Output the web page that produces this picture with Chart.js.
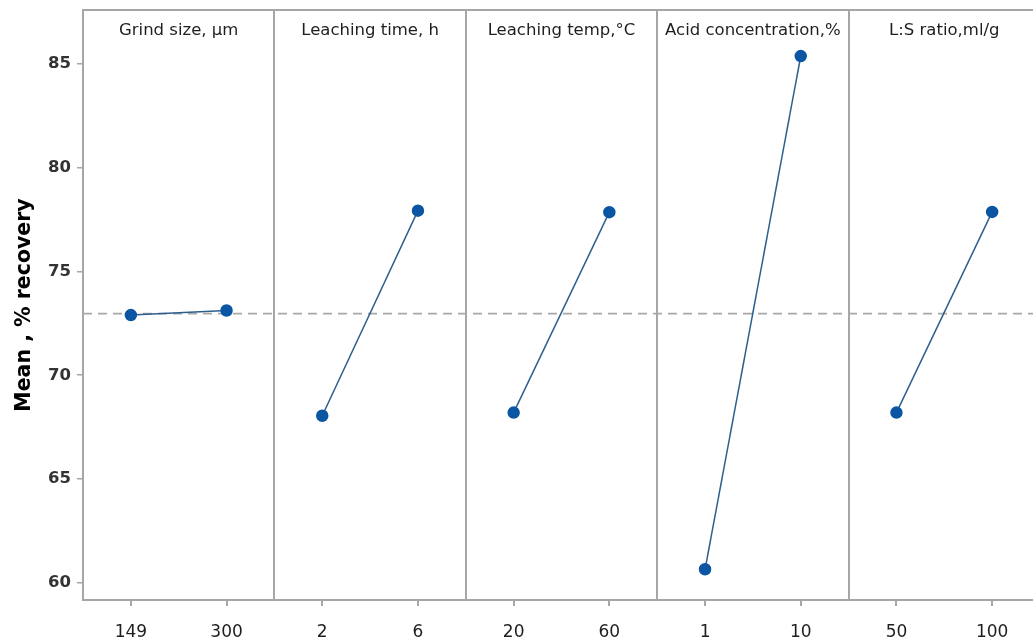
<!DOCTYPE html>
<html>
<head>
<meta charset="utf-8">
<script src="https://cdn.jsdelivr.net/npm/chart.js@4.4.1/dist/chart.umd.min.js"></script>
<style>
  html, body { margin: 0; padding: 0; background: #ffffff; overflow: hidden; }
  #chart { display: block; }
</style>
</head>
<body>
<canvas id="chart" width="1047" height="642"></canvas>
<script>
// Main effects plot: mean recovery (%) at the two levels of each factor
const factorNames = ['Grind size, µm', 'Leaching time, h', 'Leaching temp,°C', 'Acid concentration,%', 'L:S ratio,ml/g'];
const grindLevels = ['149', '300'];
const timeLevels = ['2', '6'];
const tempLevels = ['20', '60'];
const acidLevels = ['1', '10'];
const ratioLevels = ['50', '100'];

const grindMeans = [72.9, 73.12];
const timeMeans = [68.05, 77.93];
const tempMeans = [68.2, 77.86];
const acidMeans = [60.65, 85.38];
const ratioMeans = [68.2, 77.87];

const grandMean = 72.97;
const yTicks = [60, 65, 70, 75, 80, 85];

const levelSets = [grindLevels, timeLevels, tempLevels, acidLevels, ratioLevels];
const meanSets = [grindMeans, timeMeans, tempMeans, acidMeans, ratioMeans];
const tickLabels = levelSets.flat();

const frameColor = '#a6a6a6';
const lineColor = '#2d5f8c';
const pointColor = '#0b56a3';

// one dataset per factor, each factor occupying two consecutive slots on x
const factorDatasets = meanSets.map((means, i) => ({
  label: factorNames[i],
  data: means.map((m, j) => ({ x: 2 * i + j, y: m })),
  borderColor: lineColor,
  borderWidth: 1.5,
  pointBackgroundColor: pointColor,
  pointBorderColor: pointColor,
  pointRadius: 5.5,
  pointHoverRadius: 5.5,
  tension: 0,
  order: 1
}));

const meanLine = {
  label: 'mean',
  data: [{ x: -0.5, y: grandMean }, { x: tickLabels.length - 0.5, y: grandMean }],
  borderColor: '#a8a8a8',
  borderWidth: 1.6,
  borderDash: [9, 6],
  pointRadius: 0,
  order: 2
};

// top edge of the panel frame and factor names inside each panel
const panelDecor = {
  id: 'panelDecor',
  afterDraw(chart) {
    const { ctx, chartArea, scales } = chart;
    ctx.save();
    ctx.strokeStyle = frameColor;
    ctx.lineWidth = 2;
    ctx.beginPath();
    ctx.moveTo(chartArea.left, chartArea.top);
    ctx.lineTo(chart.width, chartArea.top);
    ctx.stroke();
    ctx.fillStyle = '#1e1e1e';
    ctx.font = '16.5px "DejaVu Sans"';
    ctx.textAlign = 'center';
    ctx.textBaseline = 'middle';
    factorNames.forEach((name, i) => {
      const cx = scales.x.getPixelForValue(2 * i + 0.5);
      ctx.fillText(name, cx, chartArea.top + 21);
    });
    ctx.restore();
  }
};

new Chart(document.getElementById('chart'), {
  type: 'line',
  data: { datasets: [...factorDatasets, meanLine] },
  options: {
    responsive: false,
    animation: false,
    layout: { padding: { top: 10, right: 0, left: 0, bottom: 0 } },
    plugins: { legend: { display: false }, tooltip: { enabled: false } },
    scales: {
      x: {
        type: 'linear',
        min: -0.5,
        max: tickLabels.length - 0.5,
        afterBuildTicks: (scale) => { scale.ticks = tickLabels.map((_, k) => ({ value: k })); },
        afterFit: (scale) => { scale.height = 42; scale.paddingLeft = 0; scale.paddingRight = 0; },
        grid: { drawOnChartArea: false, color: frameColor, lineWidth: 2, tickLength: 6 },
        border: { display: true, color: frameColor, width: 2 },
        ticks: {
          padding: 16,
          color: '#1e1e1e',
          font: { family: 'DejaVu Sans', size: 17 },
          maxRotation: 0,
          autoSkip: false,
          callback: (v) => tickLabels[v]
        }
      },
      sep: {
        type: 'linear',
        position: 'top',
        min: -0.5,
        max: tickLabels.length - 0.5,
        afterBuildTicks: (scale) => {
          scale.ticks = factorNames.slice(1).map((_, i) => ({ value: 2 * i + 1.5 }));
        },
        afterFit: (scale) => { scale.height = 0; scale.paddingLeft = 0; scale.paddingRight = 0; },
        grid: { drawOnChartArea: true, drawTicks: false, color: frameColor, lineWidth: 2 },
        border: { display: false },
        ticks: { display: false }
      },
      y: {
        type: 'linear',
        min: 59.17,
        max: 87.6,
        afterBuildTicks: (scale) => { scale.ticks = yTicks.map((v) => ({ value: v })); },
        afterFit: (scale) => { scale.width = 83; scale.paddingTop = 0; scale.paddingBottom = 0; },
        grid: { drawOnChartArea: false, color: frameColor, lineWidth: 1.5, tickLength: 6 },
        border: { display: true, color: frameColor, width: 2 },
        title: {
          display: true,
          text: 'Mean , % recovery',
          color: '#000000',
          font: { family: 'DejaVu Sans', size: 20.5, weight: 'bold' },
          padding: { top: 12, bottom: 4 }
        },
        ticks: {
          padding: 6,
          color: '#333333',
          font: { family: 'DejaVu Sans', size: 16.5, weight: 'bold' }
        }
      }
    }
  },
  plugins: [panelDecor]
});
</script>
</body>
</html>
